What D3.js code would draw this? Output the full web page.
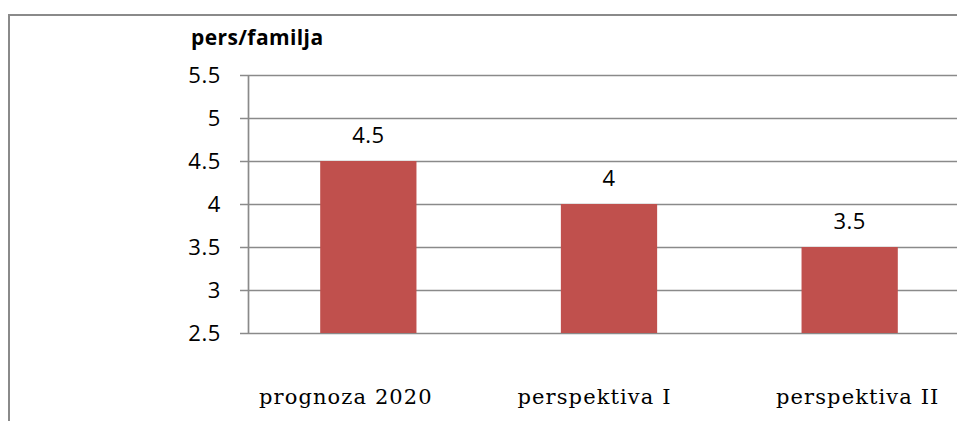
<!DOCTYPE html>
<html>
<head>
<meta charset="utf-8">
<script src="https://cdn.jsdelivr.net/npm/d3@7"></script>
<style>
  body { margin: 0; background: #fff; }
  svg { display: block; }
</style>
</head>
<body>
<div id="chart"></div>
<script>
// data
const categories = ["prognoza 2020", "perspektiva I", "perspektiva II"];
const values = [4.5, 4, 3.5];
const yTicks = [2.5, 3, 3.5, 4, 4.5, 5, 5.5];
const yTitle = "pers/familja";

const width = 957, height = 421;
const margin = { top: 75, right: -13, bottom: 88, left: 248 };
const mgw = width - margin.left - margin.right,
    mgh = height - margin.top - margin.bottom;

const svg = d3.select("#chart").append("svg")
    .attr("width", width)
    .attr("height", height);

// outer chart border (cropped on the right and bottom)
svg.append("rect")
    .attr("x", 9).attr("y", 15)
    .attr("width", 1000).attr("height", 500)
    .attr("fill", "none")
    .attr("stroke", "#8a8a8a")
    .attr("stroke-width", 2);

const g = svg.append("g")
    .attr("transform", "translate(" + margin.left + "," + margin.top + ")");

const x = d3.scaleBand().domain(categories).range([0, mgw]).paddingInner(0.6).paddingOuter(0.3);
const y = d3.scaleLinear().domain([2.5, 5.5]).range([mgh, 0]);
// category labels start positions (left aligned, wider spacing than the bars)
const xLabel = d3.scalePoint().domain(categories).range([11, 528]);

// gridlines + y axis
const yAxis = g.append("g")
    .call(d3.axisLeft(y).tickValues(yTicks).tickSize(-mgw).tickFormat(d3.format("")));
yAxis.select(".domain").remove();
yAxis.selectAll(".tick line")
    .attr("x1", -8)
    .attr("x2", mgw)
    .attr("stroke", "#8a8a8a")
    .attr("stroke-width", 1.7);
yAxis.selectAll(".tick text")
    .attr("x", -27)
    .attr("dy", "0.36em")
    .attr("fill", "#000")
    .style("font-family", "'Open Sans', sans-serif")
    .style("font-size", "22px")
    .style("letter-spacing", "0.6px");

// vertical axis line
g.append("line")
    .attr("x1", 0.5).attr("x2", 0.5)
    .attr("y1", 0).attr("y2", mgh)
    .attr("stroke", "#8a8a8a")
    .attr("stroke-width", 1.7);

// bars
g.selectAll(".bar")
    .data(values)
    .join("rect")
    .attr("class", "bar")
    .attr("x", (d, i) => x(categories[i]))
    .attr("y", d => y(d))
    .attr("width", x.bandwidth())
    .attr("height", d => mgh - y(d))
    .attr("fill", "#c0504d");

// value labels
g.selectAll(".val")
    .data(values)
    .join("text")
    .attr("class", "val")
    .attr("x", (d, i) => x(categories[i]) + x.bandwidth() / 2)
    .attr("y", d => y(d) - 18)
    .attr("text-anchor", "middle")
    .style("font-family", "'Open Sans', sans-serif")
    .style("font-size", "22px")
    .style("letter-spacing", "0.4px")
    .text(d => d);

// category labels
g.selectAll(".cat")
    .data(categories)
    .join("text")
    .attr("class", "cat")
    .attr("x", d => xLabel(d))
    .attr("y", mgh + 71)
    .style("font-family", "'DejaVu Serif', serif")
    .style("font-size", "21px")
    .style("letter-spacing", "1.1px")
    .text(d => d);

// axis title
svg.append("text")
    .attr("x", 191)
    .attr("y", 45)
    .style("font-family", "'Open Sans', sans-serif")
    .style("font-weight", "bold")
    .style("font-size", "21px")
    .style("letter-spacing", "0.4px")
    .text(yTitle);
</script>
</body>
</html>
